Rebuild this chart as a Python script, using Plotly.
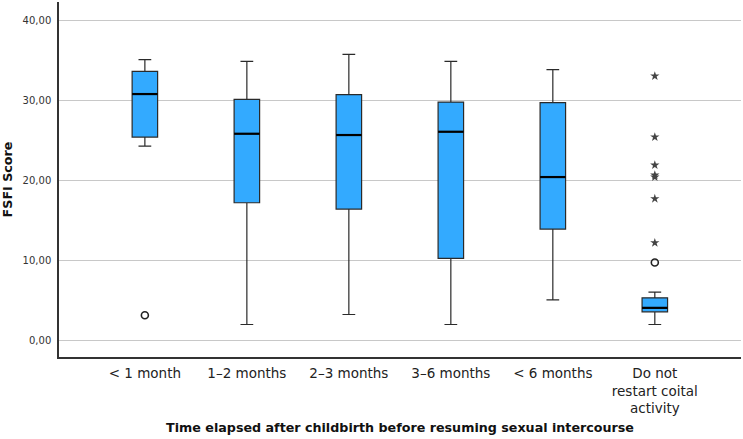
import plotly.graph_objects as go

categories = ["< 1 month", "1–2 months", "2–3 months", "3–6 months", "< 6 months",
              "Do not<br>restart coital<br>activity"]
lower_whisker = [24.25, 1.96, 3.21, 1.96, 5.04, 1.96]
q1 = [25.37, 17.17, 16.38, 10.21, 13.88, 3.54]
median = [30.75, 25.79, 25.63, 26.04, 20.38, 4.04]
q3 = [33.58, 30.08, 30.67, 29.75, 29.67, 5.29]
upper_whisker = [35.04, 34.83, 35.71, 34.83, 33.79, 6.00]

# outliers (circles) and extreme values (stars)
outlier_cat = [0, 5]
outlier_val = [3.12, 9.71]
extreme_cat = [5, 5, 5, 5, 5, 5, 5]
extreme_val = [33.0, 25.38, 21.88, 20.63, 20.38, 17.67, 12.17]

y_ticks = [0, 10, 20, 30, 40]
y_ticklabels = ["0,00", "10,00", "20,00", "30,00", "40,00"]

FILL = "#33AAFF"
EDGE = "#2a2a2a"
BOX_W = 0.25
FONT = "DejaVu Sans, Verdana, sans-serif"

fig = go.Figure()
xpos = list(range(len(categories)))
fig.add_trace(go.Box(
    x=xpos, q1=q1, median=median, q3=q3,
    lowerfence=lower_whisker, upperfence=upper_whisker,
    fillcolor=FILL, line=dict(color=EDGE, width=1.2),
    width=BOX_W, whiskerwidth=0.5, boxpoints=False, showlegend=False,
    hoverinfo="skip",
))
# thicker median lines
for i, m in enumerate(median):
    fig.add_trace(go.Scatter(
        x=[i - BOX_W / 2, i + BOX_W / 2], y=[m, m], mode="lines",
        line=dict(color="black", width=2.2), showlegend=False, hoverinfo="skip"))

fig.add_trace(go.Scatter(
    x=outlier_cat, y=outlier_val, mode="markers",
    marker=dict(symbol="circle-open", size=7, color="#222", line=dict(width=1.6)),
    showlegend=False))
fig.add_trace(go.Scatter(
    x=extreme_cat, y=extreme_val, mode="markers",
    marker=dict(symbol="star", size=7, color="#444"),
    showlegend=False))

fig.update_layout(
    width=743, height=439,
    margin=dict(l=59, r=2, t=2, b=82),
    plot_bgcolor="white", paper_bgcolor="white",
    font=dict(family=FONT, color="#222"),
    xaxis=dict(
        range=[-0.842, 5.845], tickmode="array", tickvals=xpos, ticktext=categories,
        tickfont=dict(size=13.5, color="#222"), showgrid=False, zeroline=False,
        showline=True, linecolor="#333", linewidth=1.5, ticks="", ticklabelstandoff=3,
        automargin=True,
        title=dict(text="<b>Time elapsed after childbirth before resuming sexual intercourse</b>",
                   font=dict(size=12.7, color="#111"), standoff=8),
    ),
    yaxis=dict(
        range=[-2.1, 42.25], tickmode="array", tickvals=y_ticks, ticktext=y_ticklabels,
        tickfont=dict(size=10, color="#333"), showgrid=True, gridcolor="#c8c8c8",
        gridwidth=1, zeroline=False, showline=True, linecolor="#333", linewidth=1.5,
        ticks="", ticklabelstandoff=4, automargin=True,
        title=dict(text="<b>FSFI Score</b>", font=dict(size=12.7, color="#111"), standoff=8),
    ),
)

fig.write_html("out.html")
